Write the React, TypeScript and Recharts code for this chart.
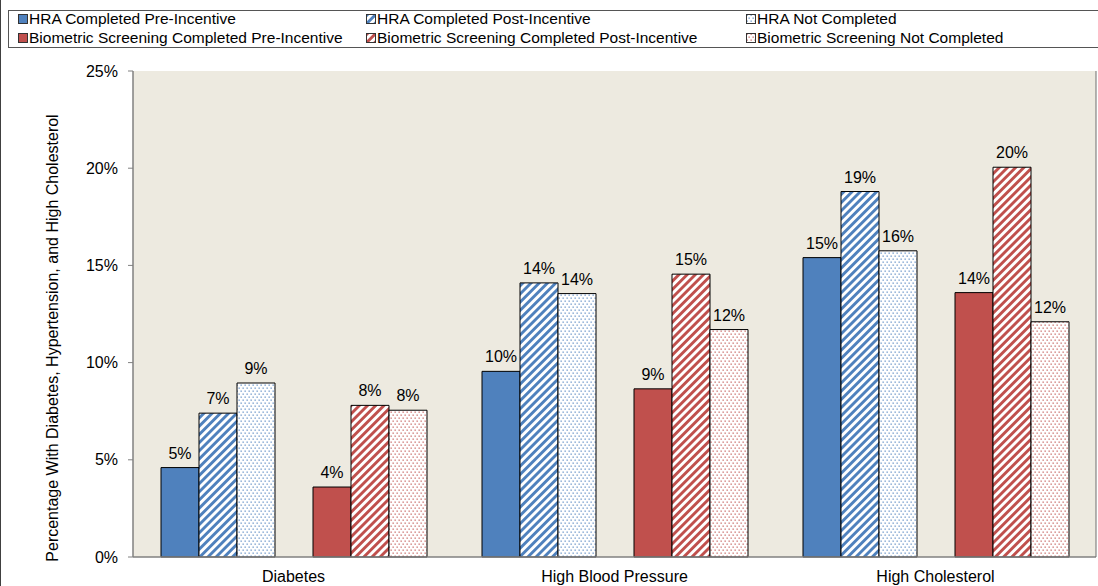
import React from "react"
import {
  BarChart,
  Bar,
  XAxis,
  YAxis,
  CartesianGrid,
  LabelList,
} from "recharts"

const BLUE = "#4F81BD"
const RED = "#C0504D"

const categories = ["Diabetes", "High Blood Pressure", "High Cholesterol"]
const hraPre = [4.6, 9.55, 15.4]
const hraPost = [7.4, 14.1, 18.8]
const hraNot = [8.95, 13.55, 15.75]
const bioPre = [3.6, 8.65, 13.6]
const bioPost = [7.8, 14.55, 20.05]
const bioNot = [7.55, 11.7, 12.1]
const yTicks = [0, 5, 10, 15, 20, 25]

const data = categories.map((name, i) => ({
  name,
  hraPre: hraPre[i],
  hraPost: hraPost[i],
  hraNot: hraNot[i],
  spacer: null,
  bioPre: bioPre[i],
  bioPost: bioPost[i],
  bioNot: bioNot[i],
}))

type SeriesDef = { key: string; label: string; fill: string }

const SERIES: SeriesDef[] = [
  { key: "hraPre", label: "HRA Completed Pre-Incentive", fill: BLUE },
  { key: "hraPost", label: "HRA Completed Post-Incentive", fill: "url(#stripeBlue)" },
  { key: "hraNot", label: "HRA Not Completed", fill: "url(#dotBlue)" },
  { key: "bioPre", label: "Biometric Screening Completed Pre-Incentive", fill: RED },
  { key: "bioPost", label: "Biometric Screening Completed Post-Incentive", fill: "url(#stripeRed)" },
  { key: "bioNot", label: "Biometric Screening Not Completed", fill: "url(#dotRed)" },
]

const FONT = "'Liberation Sans', Arial, sans-serif"
const pct = (v: unknown) => `${Math.round(Number(v))}%`

function PatternDefs() {
  return (
    <svg width={0} height={0} style={{ position: "absolute" }}>
      <defs>
        {[
          ["Blue", BLUE],
          ["Red", RED],
        ].map(([name, color]) => (
          <React.Fragment key={name}>
            <pattern
              id={`stripe${name}`}
              patternUnits="userSpaceOnUse"
              width={5.8}
              height={5.8}
              patternTransform="rotate(45)"
            >
              <rect width={5.8} height={5.8} fill="#fff" />
              <rect width={2.9} height={5.8} fill={color} />
            </pattern>
            <pattern id={`dot${name}`} patternUnits="userSpaceOnUse" width={4} height={6}>
              <rect width={4} height={6} fill="#fff" />
              <rect x={0.5} y={0.5} width={1.3} height={1.3} fill={color} fillOpacity={0.85} />
              <rect x={2.5} y={3.5} width={1.3} height={1.3} fill={color} fillOpacity={0.85} />
            </pattern>
          </React.Fragment>
        ))}
      </defs>
    </svg>
  )
}

function LegendItem({ s, left, top }: { s: SeriesDef; left: number; top: number }) {
  return (
    <div style={{ position: "absolute", left, top, display: "flex", alignItems: "center", whiteSpace: "nowrap" }}>
      <svg width={10} height={10} style={{ marginRight: 1 }}>
        <rect x={0.5} y={0.5} width={9} height={9} fill={s.fill} stroke="#333" strokeWidth={1} />
      </svg>
      <span style={{ fontSize: 15.5, color: "#000", lineHeight: "18px" }}>{s.label}</span>
    </div>
  )
}

const LEGEND_COLS = [18, 366, 746]

export default function App() {
  return (
    <div
      style={{
        position: "relative",
        width: 1098,
        height: 586,
        background: "#fff",
        fontFamily: FONT,
        overflow: "hidden",
      }}
    >
      <style>{"body{margin:0}"}</style>
      <PatternDefs />
      <div style={{ position: "absolute", left: 0, top: 0, width: 1, height: 586, background: "#404040" }} />

      {/* legend box */}
      <div
        style={{
          position: "absolute",
          left: 8,
          top: 10,
          width: 1100,
          height: 36,
          border: "1px solid #555",
        }}
      />
      {SERIES.map((s, i) => (
        <LegendItem key={s.key} s={s} left={LEGEND_COLS[i % 3]} top={i < 3 ? 10 : 29} />
      ))}

      <div style={{ position: "absolute", left: 0, top: 0 }}>
        <BarChart
          width={1098}
          height={586}
          data={data}
          margin={{ top: 71, right: 1, bottom: 0, left: 0 }}
          barGap={0}
          barCategoryGap={28}
        >
          <CartesianGrid horizontal={false} vertical={false} fill="#EDEAE0" />
          <XAxis
            dataKey="name"
            height={29}
            tickLine={false}
            tickSize={0}
            tickMargin={14}
            axisLine={{ stroke: "#808080", strokeWidth: 1.5 }}
            tick={{ fontSize: 16, fill: "#000", fontFamily: FONT }}
          />
          <XAxis xAxisId="top" orientation="top" dataKey="name" height={0} tick={false} tickLine={false} axisLine={{ stroke: "#6e6e6e" }} />
          <YAxis
            width={133}
            domain={[0, 25]}
            ticks={yTicks}
            interval={0}
            tickFormatter={(v: number) => `${v}%`}
            tickSize={5}
            tickMargin={10}
            tickLine={{ stroke: "#808080" }}
            axisLine={{ stroke: "#808080", strokeWidth: 1.5 }}
            tick={{ fontSize: 16, fill: "#000", fontFamily: FONT }}
            label={{
              value: "Percentage With Diabetes, Hypertension, and High Cholesterol",
              angle: -90,
              position: "insideLeft",
              dx: 47,
              dy: 24,
              style: { fontSize: 16, fill: "#000", fontFamily: FONT, textAnchor: "middle" },
            }}
          />
          <YAxis yAxisId="right" orientation="right" width={1} domain={[0, 25]} tick={false} tickLine={false} axisLine={{ stroke: "#6e6e6e" }} />
          {SERIES.slice(0, 3).map((s) => (
            <Bar key={s.key} dataKey={s.key} fill={s.fill} stroke="#000" strokeWidth={1} isAnimationActive={false}>
              <LabelList dataKey={s.key} position="top" offset={9} formatter={pct} style={{ fontSize: 16, fill: "#000", fontFamily: FONT }} />
            </Bar>
          ))}
          <Bar dataKey="spacer" fill="none" isAnimationActive={false} />
          {SERIES.slice(3).map((s) => (
            <Bar key={s.key} dataKey={s.key} fill={s.fill} stroke="#000" strokeWidth={1} isAnimationActive={false}>
              <LabelList dataKey={s.key} position="top" offset={9} formatter={pct} style={{ fontSize: 16, fill: "#000", fontFamily: FONT }} />
            </Bar>
          ))}
        </BarChart>
      </div>
    </div>
  )
}
